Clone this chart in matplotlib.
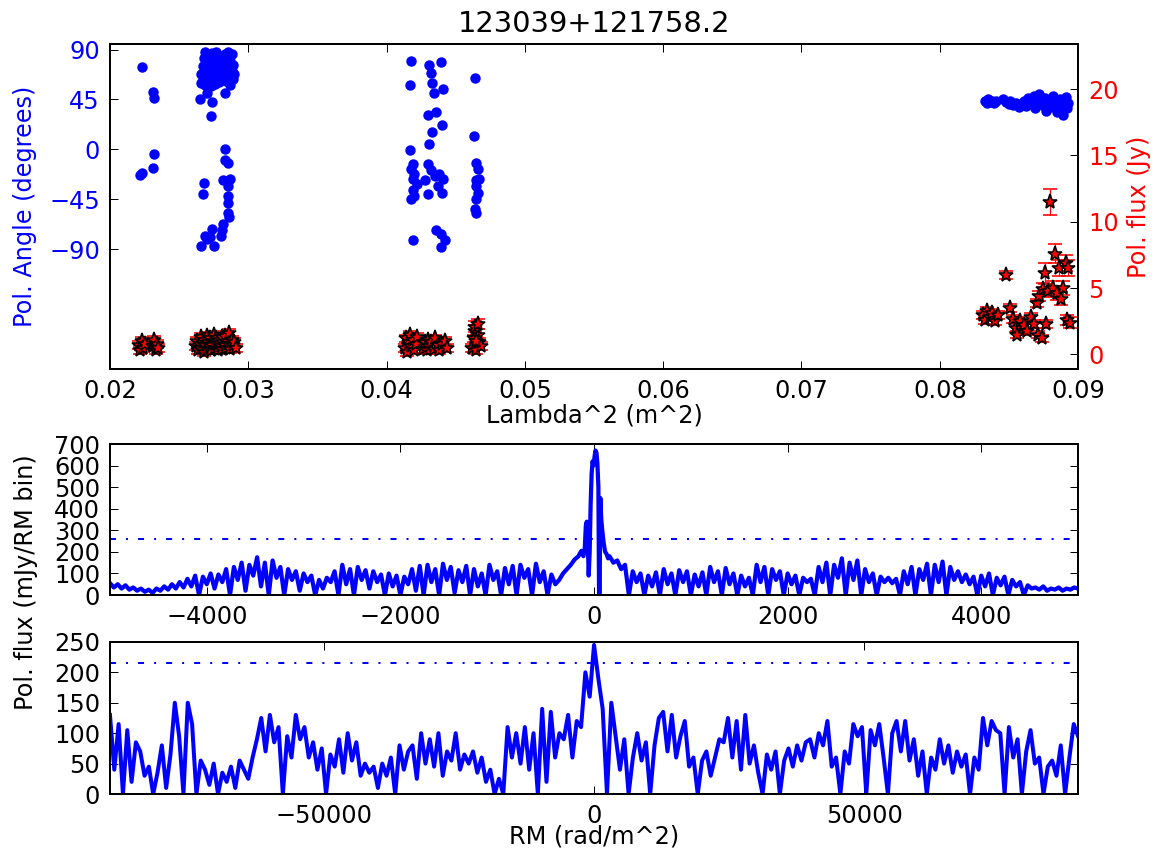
import numpy as np
import matplotlib
matplotlib.use('Agg')
import matplotlib.pyplot as plt


TITLE = '123039+121758.2'

# polarisation angle (deg) vs lambda^2 (m^2), blue dots
lam2_angle = [
    # 0.022 group
    0.0223, 0.0231, 0.0232, 0.0232, 0.0231, 0.0223, 0.0222,
    # 0.027 group, upper
    0.0266, 0.0266, 0.0267, 0.0267, 0.0268, 0.0268, 0.0269, 0.0269, 0.0270,
    0.0270, 0.0271, 0.0271, 0.0272, 0.0272, 0.0273, 0.0273, 0.0274, 0.0274,
    0.0275, 0.0275, 0.0276, 0.0276, 0.0277, 0.0277, 0.0278, 0.0278, 0.0279,
    0.0280, 0.0281, 0.0282, 0.0283, 0.0283, 0.0284, 0.0284, 0.0285, 0.0285,
    0.0286, 0.0286, 0.0287, 0.0287, 0.0288, 0.0288, 0.0289, 0.0289, 0.0290,
    0.0265, 0.0270, 0.0274, 0.0273, 0.0283,
    # 0.027 group, lower
    0.0283, 0.0283, 0.0285, 0.0268, 0.0267, 0.0282, 0.0287, 0.0285, 0.0285,
    0.0285, 0.0285, 0.0286, 0.0282, 0.0281, 0.0280, 0.0274, 0.0272, 0.0270,
    0.0266, 0.0275, 0.0269,
    # 0.043 group
    0.0418, 0.0417, 0.0431, 0.0439, 0.0432, 0.0433, 0.0434, 0.0441, 0.0430,
    0.0436, 0.0440, 0.0433, 0.0431, 0.0417, 0.0419, 0.0418, 0.0420, 0.0419,
    0.0422, 0.0419, 0.0418, 0.0420, 0.0430, 0.0432, 0.0435, 0.0438, 0.0441,
    0.0437, 0.0440, 0.0430, 0.0428, 0.0419, 0.0436, 0.0439, 0.0442, 0.0439,
    # 0.0465 group
    0.0464, 0.0463, 0.0465, 0.0466, 0.0465, 0.0467, 0.0465, 0.0466, 0.0465,
    0.0464, 0.0465,
    # 0.086 group
    0.0833, 0.0834, 0.0835, 0.0836, 0.0838, 0.0839, 0.0841, 0.0846, 0.0848,
    0.0850, 0.0851, 0.0853, 0.0855, 0.0857, 0.0859, 0.0861, 0.0862, 0.0864,
    0.0866, 0.0868, 0.0869, 0.0871, 0.0872, 0.0874, 0.0876, 0.0877, 0.0879,
    0.0880, 0.0882, 0.0884, 0.0885, 0.0887, 0.0888, 0.0889, 0.0891, 0.0892,
    0.0893,
]
pol_angle = [
    74, 52, 46, -4, -17, -21, -23,
    60, 68, 75, 63, 82, 70, 58, 88, 66,
    78, 72, 85, 62, 74, 80, 57, 68, 87,
    64, 76, 83, 59, 71, 88, 66, 79, 61,
    84, 73, 67, 86, 77, 62, 82, 70, 88,
    75, 65, 80, 58, 86, 71, 76, 63, 68,
    45, 51, 43, 30, 51,
    0, -10, -12, -30, -40, -28, -27, -33, -42,
    -48, -57, -61, -67, -73, -78, -72, -79, -81,
    -87, -87, -78,
    80, 58, 76, 79, 69, 60, 51, 54, 31,
    34, 22, 16, 5, -1, -13, -18, -22, -27,
    -31, -37, -45, -42, -13, -19, -24, -22, -27,
    -33, -39, -40, -28, -82, -73, -76, -82, -88,
    64, 12, -12, -18, -28, -27, -33, -39, -45,
    -54, -57,
    44, 42, 45, 43, 44, 42, 44, 45, 43,
    41, 44, 40, 42, 38, 41, 44, 39, 46,
    42, 48, 37, 44, 50, 40, 46, 35, 43,
    38, 48, 41, 34, 45, 39, 31, 47, 37,
    42,
]

# polarised flux (Jy) vs lambda^2, red stars with error bars
lam2_flux = [
    0.0221, 0.0222, 0.0223, 0.0224, 0.0225, 0.0231, 0.0232, 0.0233, 0.0234,
    0.0235,
    0.0262, 0.0263, 0.0264, 0.0265, 0.0266, 0.0266, 0.0267, 0.0268, 0.0268,
    0.0269, 0.0270, 0.0270, 0.0271, 0.0272, 0.0272, 0.0273, 0.0274, 0.0274,
    0.0275, 0.0276, 0.0276, 0.0277, 0.0278, 0.0278, 0.0279, 0.0280, 0.0281,
    0.0281, 0.0282, 0.0283, 0.0283, 0.0284, 0.0285, 0.0286, 0.0286, 0.0287,
    0.0288, 0.0289, 0.0290, 0.0291,
    0.0413, 0.0414, 0.0415, 0.0416, 0.0417, 0.0418, 0.0419, 0.0420, 0.0421,
    0.0422, 0.0426, 0.0428, 0.0429, 0.0430, 0.0431, 0.0432, 0.0434, 0.0435,
    0.0437, 0.0438, 0.0440, 0.0442, 0.0444,
    0.0462, 0.0463, 0.0464, 0.0465, 0.0466, 0.0467, 0.0468, 0.0464, 0.0466,
    0.0465,
    0.0831, 0.0833, 0.0834, 0.0836, 0.0838, 0.0840, 0.0842, 0.0848, 0.0851,
    0.0853, 0.0855, 0.0856, 0.0858, 0.0861, 0.0863, 0.0866, 0.0868, 0.0870,
    0.0871, 0.0872, 0.0874, 0.0875, 0.0876, 0.0877, 0.0878, 0.0880, 0.0882,
    0.0883, 0.0885, 0.0886, 0.0888, 0.0889, 0.0891, 0.0892, 0.0893, 0.0894,
]
pol_flux = [
    0.7, 0.3, 1.0, 0.5, 0.8, 0.6, 1.1, 0.3, 0.8,
    0.5,
    0.6, 1.0, 0.3, 0.8, 1.3, 0.5, 0.9, 0.2, 1.1,
    0.7, 1.4, 0.4, 0.9, 0.6, 1.2, 0.3, 1.0, 0.7,
    1.5, 0.5, 0.9, 1.2, 0.3, 0.8, 1.1, 0.6, 1.3,
    0.4, 0.9, 0.7, 1.4, 0.5, 1.0, 0.8, 1.6, 0.4,
    1.1, 0.7, 0.9, 0.5,
    0.5, 1.2, 0.2, 0.9, 1.5, 0.6, 1.1, 0.3, 0.8,
    1.3, 0.4, 0.9, 0.3, 1.1, 0.6, 0.9, 0.4, 1.2,
    0.7, 0.3, 0.8, 1.0, 0.5,
    0.5, 1.2, 1.8, 0.3, 1.5, 0.9, 0.6, 2.1, 2.3,
    1.0,
    3.0, 2.6, 3.3, 2.8, 3.1, 2.5, 3.0, 6.0, 3.5,
    2.7, 2.0, 1.5, 2.5, 2.2, 1.8, 2.8, 2.3, 3.9,
    1.5, 4.4, 1.2, 4.9, 6.1, 2.3, 4.8, 11.5, 5.0,
    7.6, 4.6, 6.5, 4.2, 5.0, 6.9, 2.6, 6.5, 2.4,
]
pol_flux_err = [
    0.3, 0.3, 0.3, 0.3, 0.3, 0.3, 0.3, 0.3, 0.3,
    0.3,
    0.3, 0.3, 0.3, 0.3, 0.3, 0.3, 0.3, 0.3, 0.3,
    0.3, 0.3, 0.3, 0.3, 0.3, 0.3, 0.3, 0.3, 0.3,
    0.3, 0.3, 0.3, 0.3, 0.3, 0.3, 0.3, 0.3, 0.3,
    0.3, 0.3, 0.3, 0.3, 0.3, 0.3, 0.3, 0.3, 0.3,
    0.3, 0.3, 0.3, 0.3,
    0.3, 0.3, 0.3, 0.3, 0.3, 0.3, 0.3, 0.3, 0.3,
    0.3, 0.3, 0.3, 0.3, 0.3, 0.3, 0.3, 0.3, 0.3,
    0.3, 0.3, 0.3, 0.3, 0.3,
    0.3, 0.3, 0.4, 0.3, 0.4, 0.3, 0.3, 0.4, 0.4,
    0.3,
    0.3, 0.3, 0.3, 0.3, 0.3, 0.3, 0.3, 0.3, 0.3,
    0.3, 0.3, 0.3, 0.3, 0.3, 0.3, 0.3, 0.3, 0.3,
    0.3, 0.4, 0.3, 0.5, 0.8, 0.3, 0.5, 1.0, 0.5,
    0.7, 0.5, 0.6, 0.5, 0.5, 0.6, 0.4, 0.6, 0.4,
]

# RM spectrum, +/-5000 rad/m^2 (mJy/RM bin)
mid_rm_left = np.arange(-5000, -159, 40)
mid_flux_left = [
    55, 35, 50, 30, 45, 25, 35, 20, 30, 15,
    25, 10, 30, 20, 40, 25, 50, 30, 60, 35,
    75, 40, 90, 0, 85, 50, 100, 30, 95, 60,
    120, 0, 130, 70, 150, 20, 140, 90, 175, 40,
    150, 0, 160, 80, 130, 0, 120, 70, 110, 20,
    100, 60, 90, 0, 70, 30, 80, 60, 110, 0,
    140, 50, 120, 0, 130, 70, 115, 30, 110, 60,
    95, 0, 100, 40, 90, 0, 85, 50, 120, 20,
    135, 0, 140, 60, 120, 0, 145, 70, 130, 10,
    115, 60, 135, 0, 120, 40, 100, 0, 140, 70,
    110, 0, 125, 50, 135, 0, 140, 80, 120, 0,
    145, 60, 110, 0, 95, 50, 70, 100, 120, 140,
    165, 180,
]
mid_rm_core = [-150, -130, -110, -95, -85, -75, -65, -55, -45, -35, -25, -15,
               -5, 5, 15, 25, 35, 45, 52, 58, 65, 75, 85, 100, 115, 130, 145]
mid_flux_core = [190, 205, 180, 220, 320, 340, 260, 90, 200, 420, 560, 620,
                 600, 640, 670, 660, 610, 500, 0, 0, 450, 350, 300, 240, 200,
                 190, 170]
mid_rm_right = np.arange(160, 5001, 40)
mid_flux_right = [
    180, 150, 160, 120, 140, 0, 110, 60, 100, 0,
    90, 40, 105, 0, 120, 50, 100, 0, 115, 60,
    110, 0, 95, 40, 105, 0, 130, 60, 110, 0,
    125, 50, 100, 0, 90, 40, 80, 0, 140, 60,
    130, 0, 120, 70, 110, 0, 100, 50, 90, 0,
    80, 60, 75, 0, 130, 60, 150, 0, 140, 80,
    170, 0, 150, 70, 160, 0, 120, 60, 100, 0,
    85, 60, 80, 55, 75, 0, 110, 50, 130, 0,
    120, 70, 145, 0, 140, 60, 155, 0, 130, 70,
    110, 60, 95, 50, 85, 0, 90, 40, 100, 0,
    80, 45, 85, 0, 70, 40, 60, 0, 45, 30,
    35, 25, 40, 20, 30, 25, 35, 20, 30, 25,
    35, 30,
]
mid_threshold = 258

# RM spectrum, full range
wide_rm = np.arange(-89600, 89601, 800)
wide_flux = [
    130, 40, 115, 0, 105, 20, 85, 70, 30, 45,
    0, 35, 80, 10, 65, 150, 95, 0, 150, 115,
    0, 55, 40, 15, 50, 0, 35, 20, 45, 10,
    55, 40, 25, 60, 90, 125, 70, 130, 85, 110,
    0, 95, 60, 130, 90, 110, 60, 85, 40, 75,
    0, 65, 45, 90, 35, 100, 55, 85, 30, 50,
    35, 45, 10, 50, 30, 60, 0, 80, 40, 70,
    80, 25, 100, 50, 90, 45, 100, 30, 70, 55,
    100, 40, 65, 50, 70, 35, 60, 20, 40, 0,
    25, 0, 110, 60, 100, 50, 110, 40, 100, 0,
    140, 20, 135, 60, 100, 90, 130, 60, 120, 110,
    200, 160, 245,
    190, 140, 0, 150, 95, 40, 90, 0, 60, 100,
    55, 85, 0, 80, 125, 135, 70, 130, 60, 95,
    120, 45, 60, 0, 55, 70, 30, 60, 90, 85,
    125, 60, 120, 40, 130, 50, 80, 35, 0, 65,
    40, 70, 0, 55, 75, 45, 80, 55, 85, 90,
    60, 100, 80, 120, 45, 60, 0, 70, 50, 115,
    95, 110, 0, 105, 80, 115, 60, 0, 100, 120,
    70, 120, 55, 90, 30, 70, 0, 60, 40, 90,
    50, 80, 35, 70, 45, 65, 0, 60, 40, 125,
    80, 120, 105, 100, 0, 110, 60, 90, 0, 70,
    105, 50, 60, 0, 45, 55, 30, 80, 0, 60,
    115, 95,
]
wide_threshold = 215


plt.rcParams.update({
    'font.family': ['DejaVu Sans'],
    'font.size': 12,
    'axes.linewidth': 1.0,
    'xtick.direction': 'in',
    'ytick.direction': 'in',
    'xtick.top': True,
    'ytick.right': True,
    'xtick.major.size': 4,
    'ytick.major.size': 4,
    'xtick.major.width': 0.5,
    'ytick.major.width': 0.5,
    'xtick.major.pad': 5,
    'ytick.major.pad': 5,
})

fig = plt.figure(figsize=(8, 5.969))

# --- top panel: angle + flux vs lambda^2
ax1 = fig.add_axes([0.0953, 0.5714, 0.8389, 0.3775])
ax1.plot(lam2_angle, pol_angle, 'o', color='b', mec='b', ms=4.2)
ax1.set_xlim(0.02, 0.09)
ax1.set_ylim(-198, 95)
ax1.set_xticks(np.arange(0.02, 0.0901, 0.01))
ax1.set_yticks([-90, -45, 0, 45, 90])
ax1.set_xlabel('Lambda^2 (m^2)', labelpad=0)
ax1.set_ylabel('Pol. Angle (degrees)', color='b', labelpad=6)
ax1.tick_params(axis='y', labelcolor='b')
ax1.set_title(TITLE, fontsize=14.4, pad=6)

ax1r = ax1.twinx()
ax1r.errorbar(lam2_flux, pol_flux, yerr=pol_flux_err, fmt='*', color='r',
              ecolor='r', mec='k', mew=0.8, ms=7.5, capsize=3.5,
              elinewidth=0.6, capthick=0.6)
ax1r.set_ylim(-1.1, 23.4)
ax1r.set_yticks([0, 5, 10, 15, 20])
ax1r.set_ylabel('Pol. flux (Jy)', color='r')
ax1r.tick_params(axis='y', labelcolor='r')

# --- middle panel: narrow RM range
rm_mid = np.concatenate([mid_rm_left, mid_rm_core, mid_rm_right])
flux_mid = np.concatenate([mid_flux_left, mid_flux_core, mid_flux_right])
ax2 = fig.add_axes([0.0953, 0.3089, 0.8389, 0.1754])
ax2.plot(rm_mid, flux_mid, color='b', lw=2.1)
ax2.axhline(mid_threshold, color='b', lw=1.0, ls=(0, (3, 5, 1, 5)))
ax2.set_xlim(-5000, 5000)
ax2.set_ylim(0, 700)
ax2.set_xticks([-4000, -2000, 0, 2000, 4000])
ax2.set_yticks(range(0, 701, 100))

# --- bottom panel: full RM range
ax3 = fig.add_axes([0.0953, 0.0778, 0.8389, 0.1766])
ax3.plot(wide_rm, wide_flux, color='b', lw=2.0)
ax3.axhline(wide_threshold, color='b', lw=1.0, ls=(0, (3, 5, 1, 5)))
ax3.set_xlim(-89600, 89600)
ax3.set_ylim(0, 250)
ax3.set_xticks([-50000, 0, 50000])
ax3.set_yticks(range(0, 251, 50))
ax3.set_xlabel('RM (rad/m^2)', labelpad=-2)

fig.text(26.0 / 1154, 1 - 582.0 / 861, 'Pol. flux (mJy/RM bin)',
         rotation=90, ha='center', va='center')

fig.savefig('out.png', dpi=144.25)
